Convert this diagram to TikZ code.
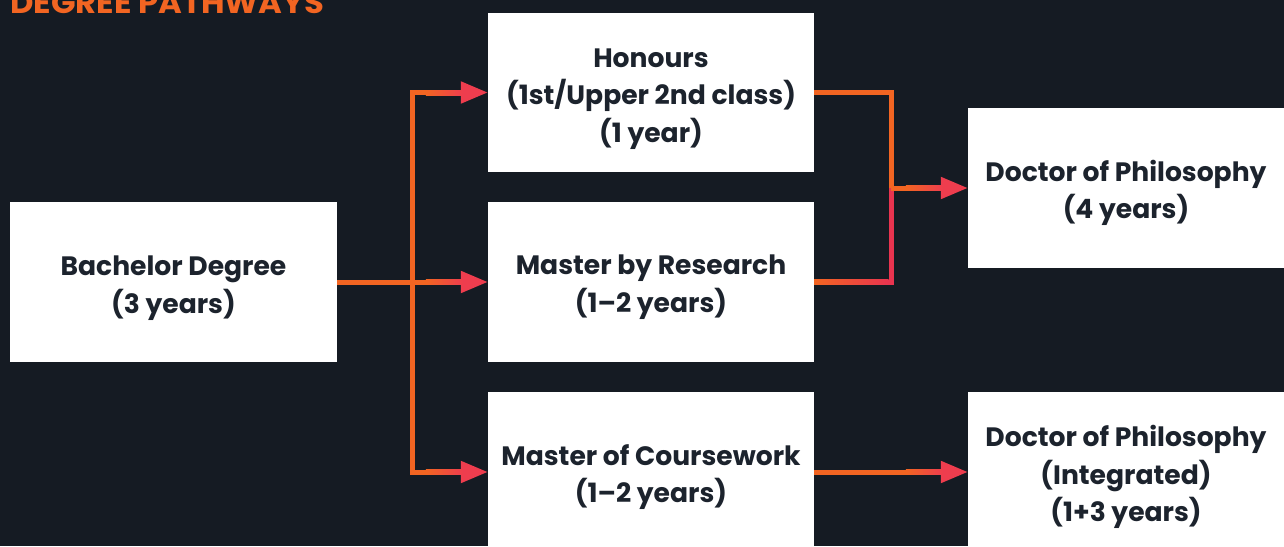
\documentclass[tikz,border=0pt]{standalone}
\usepackage{fontspec}
\setmainfont{Poppins}
\usetikzlibrary{arrows.meta,calc}
\definecolor{bg}{HTML}{151B23}
\definecolor{ink}{HTML}{1C232D}
\definecolor{org}{HTML}{F26522}
\definecolor{rd}{HTML}{EE3D4E}
\definecolor{pk}{HTML}{E9344F}
\newcommand\gradshaft[1]{\shade[left color=org,right color=rd] ($(#1)+(-62,-2.5)$) rectangle ($(#1)+(-25,2.5)$);}
\begin{document}
\begin{tikzpicture}[x=1pt,y=-1pt,
  box/.style={fill=white, draw=none, inner sep=0pt},
  txt/.style={align=center, text=ink, inner sep=0pt, yshift=-5pt,
    font=\fontsize{26.6}{37.5}\selectfont\bfseries},
  conn/.style={line width=5pt, draw=org, -{Triangle[length=27pt,width=21pt,fill=rd,color=rd]}},
  link/.style={line width=5pt, draw=org}]
\fill[bg] (0,0) rectangle (1284,546);
\useasboundingbox (0,0) rectangle (1284,546);
\clip (0,0) rectangle (1284,546);

\node[anchor=base west, text=org, inner sep=0pt, font=\fontsize{30}{32}\selectfont\bfseries] (title) at (10,13) {\scalebox{1.075}[1]{DEGREE PATHWAYS}};

\node[box, minimum width=327pt, minimum height=160pt] (bach) at (173.5,282) {};
\node[box, minimum width=326pt, minimum height=159pt] (hon) at (651,92.5) {};
\node[box, minimum width=326pt, minimum height=160pt] (mbr) at (651,282) {};
\node[box, minimum width=326pt, minimum height=164pt] (moc) at (651,474) {};
\node[box, minimum width=316pt, minimum height=160pt] (phd) at (1126,188) {};
\node[box, minimum width=316pt, minimum height=164pt] (int) at (1126,474) {};

\node[txt] (bachT) at ($(bach.center)+(0,1)$) {Bachelor Degree\\(3 years)};
\node[txt] (honT) at ($(hon.center)+(0,1.5)$) {Honours\\(1st/Upper 2nd class)\\(1 year)};
\node[txt] (mbrT) at (mbr.center) {Master by Research\\(1–2 years)};
\node[txt] (mocT) at ($(moc.center)+(0,-2)$) {Master of Coursework\\(1–2 years)};
\node[txt] (phdT) at (phd.center) {Doctor of Philosophy\\(4 years)};
\node[txt] (intT) at ($(int.center)+(0,-2)$) {Doctor of Philosophy\\(Integrated)\\(1+3 years)};

% left connectors
\coordinate (jl) at ($(bach.east)+(75,0)$);
\coordinate (mocin) at ($(moc.west)+(0,-2)$);
\coordinate (intin) at ($(int.west)+(0,-2)$);
\draw[conn] (jl) |- (hon.west);
\draw[conn] (jl) |- (mocin);
\draw[conn] (bach.east) -- (mbr.west);
\gradshaft{hon.west}
\gradshaft{mbr.west}
\gradshaft{mocin}

% right connectors
\coordinate (jr) at ($(hon.east)+(77,0)$);
\coordinate (jm) at (jr |- phd.west);
\draw[link, draw=pk] (mbr.east) -| (jm);
\shade[left color=org, right color=pk] ($(mbr.east)+(0,-2.5)$) rectangle ($(mbr.east -| jr)+(-2.5,2.5)$);
\draw[link] (hon.east) -| (jm);
\draw[conn] (jm) -- (phd.west);
\draw[conn] ($(moc.east)+(0,-2)$) -- (intin);
\gradshaft{phd.west}
\gradshaft{intin}
\end{tikzpicture}
\end{document}
